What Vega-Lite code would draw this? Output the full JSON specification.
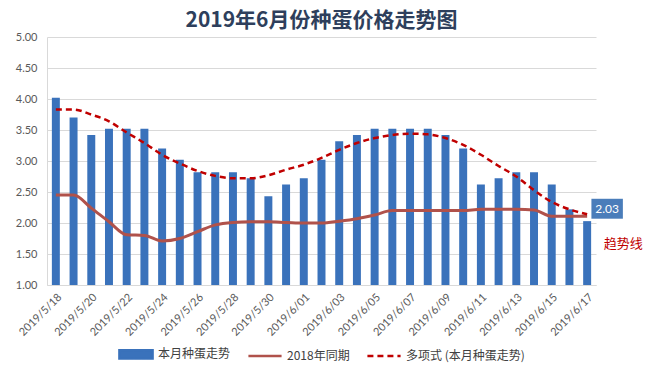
{
  "$schema": "https://vega.github.io/schema/vega-lite/v6.json",
  "width": 549,
  "height": 248,
  "autosize": {"type": "none"},
  "padding": {"left": 47, "top": 37, "right": 58, "bottom": 106},
  "background": "white",
  "title": {
    "text": "2019年6月份种蛋价格走势图",
    "font": "Noto Sans CJK SC",
    "fontSize": 21,
    "fontWeight": "bold",
    "color": "#2E3F5C",
    "anchor": "middle",
    "offset": 0
  },
  "config": {
    "view": {"stroke": null},
    "axis": {"labelFont": "Lato", "labelColor": "#595959", "labelFontSize": 11},
    "axisY": {"title": null, "format": ".2f", "values": [1, 1.5, 2, 2.5, 3, 3.5, 4, 4.5, 5], "labelOverlap": false, "ticks": false, "gridColor": "#d9d9d9", "domainColor": "#d9d9d9", "labelPadding": 10}
  },
  "data": {
    "values": [
      {"date": "2019/5/18", "price": 4.02, "y2018": 2.45, "trend": 3.83},
      {"date": "2019/5/19", "price": 3.70, "y2018": 2.45, "trend": 3.83},
      {"date": "2019/5/20", "price": 3.42, "y2018": 2.24, "trend": 3.75},
      {"date": "2019/5/21", "price": 3.52, "y2018": 2.02, "trend": 3.64},
      {"date": "2019/5/22", "price": 3.52, "y2018": 1.81, "trend": 3.46},
      {"date": "2019/5/23", "price": 3.52, "y2018": 1.80, "trend": 3.29},
      {"date": "2019/5/24", "price": 3.20, "y2018": 1.71, "trend": 3.10},
      {"date": "2019/5/25", "price": 3.02, "y2018": 1.75, "trend": 2.96},
      {"date": "2019/5/26", "price": 2.82, "y2018": 1.86, "trend": 2.84},
      {"date": "2019/5/27", "price": 2.82, "y2018": 1.97, "trend": 2.76},
      {"date": "2019/5/28", "price": 2.82, "y2018": 2.01, "trend": 2.72},
      {"date": "2019/5/29", "price": 2.72, "y2018": 2.02, "trend": 2.72},
      {"date": "2019/5/30", "price": 2.43, "y2018": 2.02, "trend": 2.77},
      {"date": "2019/5/31", "price": 2.62, "y2018": 2.01, "trend": 2.86},
      {"date": "2019/6/01", "price": 2.72, "y2018": 2.00, "trend": 2.94},
      {"date": "2019/6/02", "price": 3.02, "y2018": 2.00, "trend": 3.05},
      {"date": "2019/6/03", "price": 3.32, "y2018": 2.03, "trend": 3.18},
      {"date": "2019/6/04", "price": 3.42, "y2018": 2.07, "trend": 3.29},
      {"date": "2019/6/05", "price": 3.52, "y2018": 2.13, "trend": 3.37},
      {"date": "2019/6/06", "price": 3.52, "y2018": 2.20, "trend": 3.42},
      {"date": "2019/6/07", "price": 3.52, "y2018": 2.20, "trend": 3.44},
      {"date": "2019/6/08", "price": 3.52, "y2018": 2.20, "trend": 3.43},
      {"date": "2019/6/09", "price": 3.42, "y2018": 2.20, "trend": 3.37},
      {"date": "2019/6/10", "price": 3.20, "y2018": 2.20, "trend": 3.26},
      {"date": "2019/6/11", "price": 2.62, "y2018": 2.22, "trend": 3.10},
      {"date": "2019/6/12", "price": 2.72, "y2018": 2.22, "trend": 2.92},
      {"date": "2019/6/13", "price": 2.82, "y2018": 2.22, "trend": 2.75},
      {"date": "2019/6/14", "price": 2.82, "y2018": 2.21, "trend": 2.53},
      {"date": "2019/6/15", "price": 2.62, "y2018": 2.11, "trend": 2.34},
      {"date": "2019/6/16", "price": 2.22, "y2018": 2.11, "trend": 2.22},
      {"date": "2019/6/17", "price": 2.03, "y2018": 2.11, "trend": 2.14}
    ]
  },
  "encoding": {
    "x": {
      "field": "date",
      "type": "ordinal",
      "sort": null,
      "scale": {"paddingInner": 0.55, "paddingOuter": 0.275},
      "axis": {
        "title": null,
        "labelAngle": -45,
        "ticks": false,
        "domainColor": "#d9d9d9",
        "labelPadding": 6,
        "values": ["2019/5/18","2019/5/20","2019/5/22","2019/5/24","2019/5/26","2019/5/28","2019/5/30","2019/6/01","2019/6/03","2019/6/05","2019/6/07","2019/6/09","2019/6/11","2019/6/13","2019/6/15","2019/6/17"]
      }
    }
  },
  "layer": [
    {
      "mark": {"type": "bar"},
      "encoding": {
        "y": {
          "field": "price",
          "type": "quantitative",
          "scale": {"domain": [1, 5], "nice": false, "zero": false}
        },
        "y2": {"datum": 1},
        "color": {
          "datum": "本月种蛋走势",
          "type": "nominal",
          "scale": {
            "domain": ["本月种蛋走势", "2018年同期", "多项式 (本月种蛋走势)"],
            "range": ["#3A72BB", "#B0524B", "#C00000"]
          },
          "legend": {
            "title": null,
            "orient": "none",
            "legendX": 71,
            "legendY": 299,
            "direction": "horizontal",
            "labelFont": "Noto Sans CJK SC",
            "labelFontSize": 12,
            "labelColor": "#404040",
            "symbolSize": 1100,
            "columnPadding": 12,
            "labelOffset": 4,
            "encode": {
              "symbols": {
                "update": {
                  "shape": {"signal": "datum.value == '本月种蛋走势' ? 'M-1,-0.25H1V0.25H-1Z' : 'M-1,0H1'"},
                  "fill": {"signal": "datum.value == '本月种蛋走势' ? '#3A72BB' : 'transparent'"},
                  "stroke": {"signal": "datum.value == '本月种蛋走势' ? 'transparent' : (datum.value == '2018年同期' ? '#B0524B' : '#C00000')"},
                  "strokeDash": {"signal": "datum.value == '多项式 (本月种蛋走势)' ? [6, 4] : [1, 0]"},
                  "strokeWidth": {"value": 2.5},
                  "opacity": {"value": 1}
                }
              }
            }
          }
        }
      }
    },
    {
      "mark": {"type": "line", "strokeWidth": 3, "interpolate": "monotone"},
      "encoding": {
        "y": {"field": "y2018", "type": "quantitative"},
        "color": {"datum": "2018年同期", "type": "nominal"}
      }
    },
    {
      "mark": {"type": "line", "strokeWidth": 2.5, "strokeDash": [6, 4], "interpolate": "monotone"},
      "encoding": {
        "y": {"field": "trend", "type": "quantitative"},
        "color": {"datum": "多项式 (本月种蛋走势)", "type": "nominal"}
      }
    },
    {
      "data": {"values": [{"date": "2019/6/17", "v": 2.23, "label": "2.03"}]},
      "mark": {"type": "point", "shape": "M-1.5,-0.95H1.5V0.95H-1.5Z", "filled": true, "size": 440, "opacity": 1, "color": "#4A7DBA", "xOffset": 20},
      "encoding": {"y": {"field": "v", "type": "quantitative"}}
    },
    {
      "data": {"values": [{"date": "2019/6/17", "v": 2.23, "label": "2.03"}]},
      "mark": {"type": "text", "color": "white", "font": "Lato", "fontSize": 12, "dx": 20, "align": "center", "baseline": "middle"},
      "encoding": {"y": {"field": "v", "type": "quantitative"}, "text": {"field": "label"}}
    },
    {
      "data": {"values": [{"date": "2019/6/17", "v": 1.66, "label": "趋势线"}]},
      "mark": {"type": "text", "color": "#C00000", "font": "Noto Sans CJK SC", "fontSize": 13, "dx": 36, "align": "center", "baseline": "middle"},
      "encoding": {"y": {"field": "v", "type": "quantitative"}, "text": {"field": "label"}}
    }
  ]
}
